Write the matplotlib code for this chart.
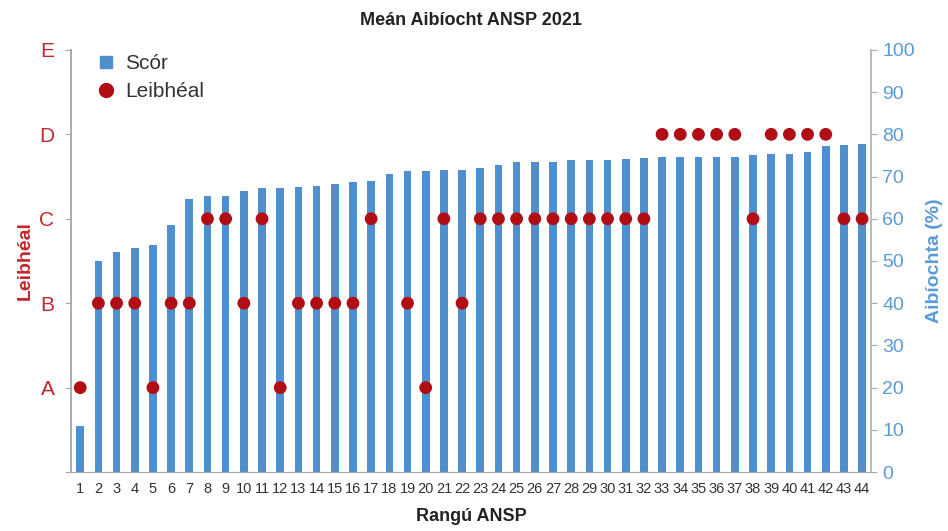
import matplotlib
matplotlib.use("Agg")
import matplotlib.pyplot as plt
from matplotlib.lines import Line2D

# rank, score (%) and level (A=1 .. E=5, None = no level)
ranks = list(range(1, 45))
scores = [10.9, 50.1, 52.2, 53.0, 53.9, 58.5, 64.6, 65.3, 65.3, 66.5,
          67.2, 67.2, 67.5, 67.7, 68.2, 68.6, 68.9, 70.7, 71.2, 71.4,
          71.6, 71.6, 72.1, 72.8, 73.5, 73.5, 73.5, 73.9, 73.9, 73.9,
          74.2, 74.4, 74.6, 74.6, 74.7, 74.7, 74.7, 75.2, 75.4, 75.4,
          75.7, 77.3, 77.5, 77.7]
levels = [1, 2, 2, 2, 1, 2, 2, 3, 3, 2,
          3, 1, 2, 2, 2, 2, 3, None, 2, 1,
          3, 2, 3, 3, 3, 3, 3, 3, 3, 3,
          3, 3, 4, 4, 4, 4, 4, 3, 4, 4,
          4, 4, 3, 3]
level_names = ['A', 'B', 'C', 'D', 'E']

bar_col = '#4f8fce'
dot_col = '#b00e14'
red_txt = '#c0282e'
blue_txt = '#5b9bd5'

plt.rcParams['font.family'] = ['Liberation Sans', 'DejaVu Sans']

fig = plt.figure(figsize=(9.48, 5.31), dpi=100)
ax = fig.add_axes([0.075, 0.111, 0.844, 0.795])

# bars on the % axis (right side)
ax.bar(ranks, scores, width=0.42, color=bar_col, zorder=2)
ax.set_ylim(0, 100)
ax.set_xlim(0.5, 44.5)

# levels on the left axis
ax_l = ax.twinx()
lx = [r for r, l in zip(ranks, levels) if l is not None]
ly = [l for l in levels if l is not None]
ax_l.scatter(lx, ly, s=85, color=dot_col, zorder=3, edgecolors='none')
ax_l.set_ylim(0, 5)

ax.yaxis.tick_right()
ax.yaxis.set_label_position('right')
ax_l.yaxis.tick_left()
ax_l.yaxis.set_label_position('left')

ax.set_yticks(range(0, 101, 10))
ax.tick_params(axis='y', colors='#aaaaaa', labelcolor=blue_txt, labelsize=14,
               length=4, direction='out', pad=4)
ax.set_xticks(ranks)
ax.set_xticklabels([str(r) for r in ranks], fontsize=10.5, color='#333333')
ax.tick_params(axis='x', length=0, pad=7)
ax.set_ylabel('Aibíochta (%)', color=blue_txt, fontsize=14, fontweight='bold',
              labelpad=8)
ax.set_xlabel('Rangú ANSP', fontsize=13, fontweight='bold',
              color='#222222', labelpad=9)

ax_l.set_yticks([0, 1, 2, 3, 4, 5])
ax_l.set_yticklabels([''] + level_names)
ax_l.tick_params(axis='y', colors='#aaaaaa', labelcolor=red_txt, labelsize=15,
                 length=4, direction='out', pad=8)
ax_l.set_ylabel('Leibhéal', color=red_txt, fontsize=14, fontweight='bold',
                labelpad=4)

for a in (ax, ax_l):
    a.spines['top'].set_visible(False)
    a.spines['left'].set_color('#aaaaaa')
    a.spines['right'].set_color('#bbbbbb')
    a.spines['bottom'].set_color('#aaaaaa')
    a.spines['left'].set_linewidth(1.2)
    a.spines['right'].set_linewidth(1.2)

ax.set_title('Meán Aibíocht ANSP 2021', fontsize=13, fontweight='bold',
             color='#222222', pad=18)

handles = [Line2D([], [], marker='s', linestyle='', color=bar_col, markersize=9),
           Line2D([], [], marker='o', linestyle='', color=dot_col, markersize=10)]
ax_l.legend(handles, ['Scór', 'Leibhéal'], loc='upper left', frameon=False,
            handlelength=1.0, handletextpad=0.4, borderaxespad=0.2,
            bbox_to_anchor=(0.015, 1.02), labelspacing=0.45, labelcolor='#333333',
            prop={'size': 15})

fig.savefig('out.png', dpi=100)
